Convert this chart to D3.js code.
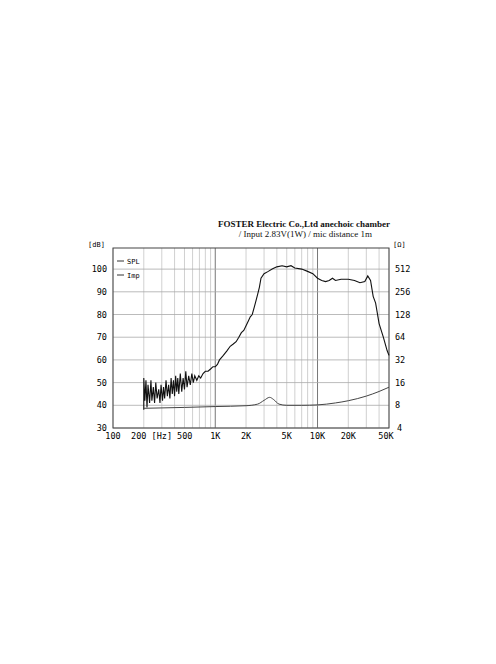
<!DOCTYPE html>
<html><head><meta charset="utf-8">
<script src="https://cdn.jsdelivr.net/npm/d3@7"></script>
<style>body{margin:0;background:#fff}</style>
</head><body><div id="chart"></div>
<script>
// SPL curve [Hz, dB]
const splFreq = [200,200,205,210,215,220,228,235,240,248,255,262,270,280,288,295,305,312,320,330,340,350,360,370,380,390,400,410,420,430,440,455,470,485,500,515,530,550,570,590,610,630,660,690,720,760,800,850,900,950,1000,1050,1100,1200,1300,1400,1500,1600,1700,1800,1900,2000,2100,2200,2300,2400,2500,2600,2700,2800,3000,3300,3600,4000,4500,5000,5500,6000,7000,8000,9000,10000,11000,12000,13000,14000,15000,17000,20000,23000,26000,29000,31000,33000,35000,37000,40000,44000,48000,50000];
const splDb = [38,52,42,51,39,49,41,51,42,48,41,50,43,47,41,49,42,48,43,51,44,49,43,52,45,51,44,53,46,52,45,54,46,52,47,55,48,53,49,54,50,53,51,53,52,54,55,55,56,57,57,58,60,62,64,66,67,68,70,72,73,75,77,79,80,83,86,89,92,96,98,99,100,101,101.5,101,101.5,100.5,100,99,98,96,95,94.5,95,96,95,95.5,95.5,95,94,94.5,97,95,88,85,76,70,64,62];
// Impedance curve [Hz, ohm]
const impFreq = [200,500,1000,2000,2600,3000,3400,3700,4200,5000,7000,10000,15000,20000,30000,40000,50000];
const impOhm = [7.3,7.5,7.7,7.9,8.3,9.3,10.2,9.6,8.3,8.0,8.0,8.1,8.6,9.2,10.6,12.2,13.9];
const xTicks = [100,200,500,1000,2000,5000,10000,20000,50000];
const xTickLabels = ["100","200 [Hz] 500","","1K","2K","5K","10K","20K","50K"];
const dbTicks = [30,40,50,60,70,80,90,100];
const ohmTicks = [4,8,16,32,64,128,256,512];

const W = 496, H = 664;
const m = { left: 113, right: 107, top: 248, bottom: 236 };
const svg = d3.select("#chart").append("svg").attr("width", W).attr("height", H);
const g = svg.append("g").attr("transform", "translate(" + m.left + "," + m.top + ")");
const w = W - m.left - m.right, h = H - m.top - m.bottom;

const x = d3.scaleLog().domain([100, 50000]).range([0, w]);
const y = d3.scaleLinear().domain([30, 109.3]).range([h, 0]);
const yOhm = d3.scaleLog().base(2).domain([4, 4 * Math.pow(2, 7.93)]).range([h, 0]);

// vertical grid
const vGrid = [];
[100, 1000, 10000].forEach(function(dec) {
  for (let k = 1; k <= 9; k++) if (dec * k <= 50000) vGrid.push(dec * k);
});
g.selectAll(".vg").data(vGrid).enter().append("line")
  .attr("x1", d => x(d)).attr("x2", d => x(d)).attr("y1", 0).attr("y2", h)
  .attr("stroke", d => (d === 1000 || d === 10000) ? "#777" : "#bbb")
  .attr("stroke-width", d => (d === 1000 || d === 10000) ? 1 : 0.7);
g.selectAll(".hg").data(dbTicks).enter().append("line")
  .attr("x1", 0).attr("x2", w).attr("y1", d => y(d)).attr("y2", d => y(d))
  .attr("stroke", "#aaa").attr("stroke-width", 0.8);
g.append("rect").attr("width", w).attr("height", h).attr("fill", "none").attr("stroke", "#444");

const font = "'DejaVu Sans Mono', monospace";
g.selectAll(".xl").data(xTicks).enter().append("text")
  .attr("x", (d, i) => i === 1 ? x(d) + 18 : (i === 8 ? x(d) - 3 : x(d))).attr("y", h + 11)
  .attr("text-anchor", "middle").style("font-family", font).style("font-size", "8.5px")
  .text((d, i) => xTickLabels[i]);
g.selectAll(".yl").data(dbTicks).enter().append("text")
  .attr("x", -6).attr("y", d => y(d) + 3).attr("text-anchor", "end")
  .style("font-family", font).style("font-size", "8.5px").text(d => d);
g.selectAll(".ol").data(ohmTicks).enter().append("text")
  .attr("x", d => d === 4 ? 8 : 6).attr("y", d => yOhm(d) + 3).attr("text-anchor", "start")
  .attr("transform", "translate(" + w + ",0)")
  .style("font-family", font).style("font-size", "8.5px").text(d => d);
g.append("text").attr("x", -25).attr("y", -1).style("font-family", font).style("font-size", "7px").text("[dB]");
g.append("text").attr("x", w + 4).attr("y", -1).style("font-family", font).style("font-size", "7px").text("[Ω]");

// title
svg.append("text").attr("x", 390).attr("y", 227).attr("text-anchor", "end")
  .style("font-family", "'Liberation Serif', serif").style("font-size", "9px").attr("fill", "#111")
  .style("font-weight", "bold")
  .text("FOSTER Electric Co.,Ltd  anechoic chamber");
svg.append("text").attr("x", 372).attr("y", 237).attr("text-anchor", "end")
  .style("font-family", "'Liberation Serif', serif").style("font-size", "9px").attr("fill", "#111")
  .text("/ Input 2.83V(1W) / mic distance 1m");

// legend
["SPL", "Imp"].forEach(function(t, i) {
  g.append("line").attr("x1", 4).attr("x2", 11).attr("y1", 13 + i * 14).attr("y2", 13 + i * 14).attr("stroke", "#333");
  g.append("text").attr("x", 14).attr("y", 15.5 + i * 14).style("font-family", font).style("font-size", "7px").text(t);
});

const spl = d3.line().x(d => x(d[0])).y(d => y(d[1]));
g.append("path").datum(d3.zip(splFreq, splDb)).attr("d", spl)
  .attr("fill", "none").attr("stroke", "#111").attr("stroke-width", 1.1);
const imp = d3.line().curve(d3.curveMonotoneX).x(d => x(d[0])).y(d => yOhm(d[1]));
g.append("path").datum(d3.zip(impFreq, impOhm)).attr("d", imp)
  .attr("fill", "none").attr("stroke", "#444").attr("stroke-width", 1);
</script></body></html>
